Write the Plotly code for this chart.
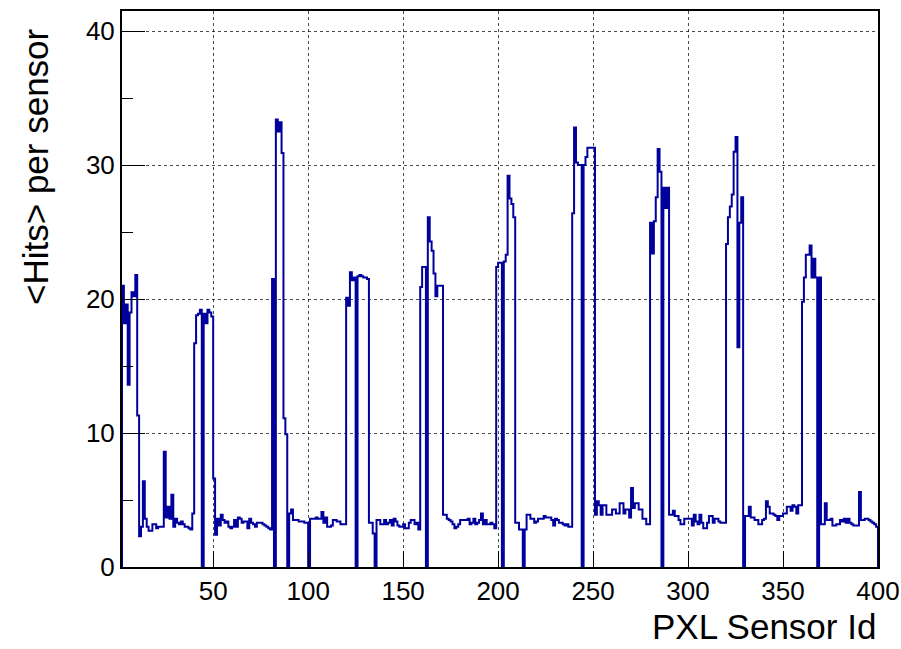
import plotly.graph_objects as go

# Mean number of hits per PXL sensor, one bin per sensor id (ids 2..399)
first_sensor = 2
hits = [
    # 2-9
    21.0, 18.2, 19.6, 13.6, 19.0, 20.5, 20.2, 21.8,
    # 10-19
    11.3, 2.3, 3.0, 6.4, 3.6, 3.0, 2.7, 2.7, 3.2, 3.2,
    # 20-29
    2.9, 3.0, 3.0, 3.0, 8.6, 3.7, 4.5, 3.6, 5.4, 3.0,
    # 30-39
    3.6, 3.3, 3.2, 3.4, 3.2, 3.0, 3.0, 2.9, 2.8, 4.0,
    # 40-49
    16.7, 18.8, 18.9, 19.2, 0.0, 18.9, 18.2, 19.2, 19.0, 18.7,
    # 50-59
    6.6, 2.4, 3.6, 3.1, 3.9, 3.5, 3.3, 3.4, 3.0, 2.9,
    # 60-69
    3.0, 3.5, 3.0, 3.7, 3.6, 3.3, 3.4, 3.4, 2.9, 3.6,
    # 70-79
    3.3, 3.2, 3.0, 3.3, 3.3, 3.3, 3.2, 3.1, 3.0, 2.9,
    # 80-89
    2.8, 21.5, 0.0, 33.4, 32.5, 33.2, 30.9, 11.1, 9.9, 0.0,
    # 90-99
    4.0, 4.3, 3.5, 3.5, 3.5, 3.4, 3.4, 3.4, 3.3, 3.3,
    # 100-109
    0.0, 3.6, 3.6, 3.6, 3.7, 3.6, 3.6, 4.1, 3.3, 3.7,
    # 110-119
    3.0, 3.0, 3.1, 3.5, 3.5, 3.4, 3.4, 3.2, 3.2, 3.2,
    # 120-129
    20.1, 19.5, 22.0, 21.4, 21.6, 0.0, 21.7, 21.8, 21.7, 21.6,
    # 130-139
    21.6, 21.5, 3.3, 3.3, 2.5, 0.0, 3.5, 3.5, 3.2, 3.2,
    # 140-149
    3.5, 3.2, 3.3, 3.5, 3.1, 3.6, 3.4, 3.1, 3.0, 3.0,
    # 150-159
    3.2, 2.9, 2.9, 3.3, 3.5, 3.5, 3.2, 3.3, 2.8, 20.9,
    # 160-169
    22.4, 22.4, 0.0, 26.1, 24.3, 23.6, 21.9, 20.2, 21.0, 21.0,
    # 170-179
    21.0, 3.9, 3.9, 3.6, 3.5, 3.4, 3.2, 2.9, 3.0, 3.2,
    # 180-189
    3.5, 3.5, 3.5, 3.5, 3.6, 3.2, 3.3, 3.6, 3.2, 3.3,
    # 190-199
    3.5, 4.0, 3.2, 3.5, 3.2, 3.2, 3.3, 3.2, 2.9, 22.4,
    # 200-209
    22.7, 22.7, 0.0, 22.8, 23.3, 29.2, 27.5, 27.1, 26.1, 3.3,
    # 210-219
    3.3, 2.8, 2.8, 0.0, 2.8, 3.9, 3.9, 3.6, 3.6, 3.3,
    # 220-229
    3.4, 3.6, 3.6, 3.6, 3.8, 3.7, 3.7, 3.7, 3.5, 3.1,
    # 230-239
    3.6, 3.5, 3.3, 3.3, 3.2, 3.1, 3.2, 3.0, 3.0, 26.4,
    # 240-249
    32.8, 30.2, 30.0, 30.0, 0.0, 30.0, 30.6, 31.3, 31.3, 31.3,
    # 250-259
    31.3, 3.9, 4.9, 4.6, 3.9, 4.6, 4.6, 3.9, 3.9, 3.9,
    # 260-269
    4.3, 4.3, 4.0, 4.0, 4.75, 4.75, 4.0, 4.3, 4.3, 3.7,
    # 270-279
    5.9, 4.4, 4.75, 4.75, 4.3, 4.3, 3.6, 3.6, 3.2, 3.2,
    # 280-289
    25.7, 23.4, 25.8, 27.6, 31.2, 29.5, 0.0, 28.3, 26.8, 28.3,
    # 290-299
    3.9, 3.9, 4.2, 3.8, 3.8, 3.5, 3.2, 3.2, 3.6, 3.6,
    # 300-309
    3.6, 3.6, 3.1, 3.9, 3.4, 3.2, 3.9, 3.3, 2.9, 2.9,
    # 310-319
    3.3, 3.8, 3.8, 3.3, 3.6, 3.6, 3.4, 3.3, 3.3, 3.3,
    # 320-329
    24.1, 26.1, 26.9, 27.8, 31.0, 32.1, 16.4, 25.7, 27.6, 0.0,
    # 330-339
    3.8, 3.8, 4.5, 3.7, 3.7, 3.5, 3.5, 3.2, 3.2, 3.5,
    # 340-349
    3.6, 4.9, 4.5, 4.0, 4.0, 3.9, 3.8, 3.5, 3.8, 3.8,
    # 350-359
    4.0, 4.0, 4.5, 4.5, 4.2, 4.6, 4.5, 4.0, 4.6, 4.6,
    # 360-369
    19.8, 21.6, 23.3, 23.3, 24.0, 21.6, 23.0, 21.6, 0.0, 21.6,
    # 370-379
    3.2, 3.2, 4.75, 3.5, 3.5, 3.6, 3.1, 3.1, 3.2, 3.2,
    # 380-389
    3.5, 3.4, 3.6, 3.3, 3.6, 3.3, 3.2, 3.1, 3.1, 3.1,
    # 390-399
    5.6, 3.5, 3.5, 3.6, 3.6, 3.5, 3.4, 3.3, 3.2, 3.0,
]
sensor_id = [first_sensor + i for i in range(len(hits))]

x_ticks = [50, 100, 150, 200, 250, 300, 350, 400]
y_ticks = [0, 10, 20, 30, 40]
x_title = "PXL Sensor Id"
y_title = "&lt;Hits&gt; per sensor"

# Histogram outline: start at zero on the left edge, step through each bin,
# and come back down to zero at the right edge of the last bin.
xs = [sensor_id[0]] + sensor_id + [sensor_id[-1] + 1]
ys = [0] + hits + [0]

FONT = "Liberation Sans, Arial, Helvetica, sans-serif"
LINE = "#00009c"

fig = go.Figure()
fig.add_trace(go.Scatter(
    x=xs, y=ys, mode="lines",
    line=dict(color=LINE, width=2, shape="hv"),
    hoverinfo="skip", showlegend=False,
))

fig.update_xaxes(
    range=[sensor_id[0], sensor_id[-1] + 1],
    tickvals=x_ticks, ticktext=[str(v) for v in x_ticks],
    ticks="inside", ticklen=16, tickwidth=1, tickcolor="black",
    showline=True, linecolor="black", linewidth=2, mirror=True,
    showgrid=True, gridcolor="rgba(0,0,0,0.7)", gridwidth=1, griddash="dot",
    zeroline=False, automargin=False,
    tickfont=dict(family=FONT, size=26, color="black"),
)
fig.update_yaxes(
    range=[0, 41.5],
    tickvals=y_ticks, ticktext=[str(v) for v in y_ticks],
    ticks="inside", ticklen=23, tickwidth=1, tickcolor="black",
    minor=dict(dtick=5, tick0=0, ticks="inside", ticklen=11,
               tickcolor="black", tickwidth=1, showgrid=False),
    showline=True, linecolor="black", linewidth=2, mirror=True,
    showgrid=True, gridcolor="rgba(0,0,0,0.7)", gridwidth=1, griddash="dot",
    zeroline=False, automargin=False,
    tickfont=dict(family=FONT, size=26, color="black"),
)

W, H = 901, 649
L, R, T, B = 122, 23, 11, 82
plot_w, plot_h = W - L - R, H - T - B

fig.update_layout(
    width=W, height=H,
    margin=dict(l=L, r=R, t=T, b=B, pad=0, autoexpand=False),
    paper_bgcolor="white", plot_bgcolor="white",
    font=dict(family=FONT, color="black"),
    annotations=[
        dict(text=x_title, xref="paper", yref="paper",
             x=1.0, y=-(626 - (T + plot_h)) / plot_h,
             xanchor="right", yanchor="middle", showarrow=False,
             font=dict(family=FONT, size=35, color="black")),
        dict(text=y_title, xref="paper", yref="paper",
             x=(35 - L) / plot_w, y=(T + plot_h - 167) / plot_h,
             xanchor="center", yanchor="middle", textangle=-90,
             showarrow=False,
             font=dict(family=FONT, size=35, color="black")),
    ],
)

fig.write_html("out.html")
